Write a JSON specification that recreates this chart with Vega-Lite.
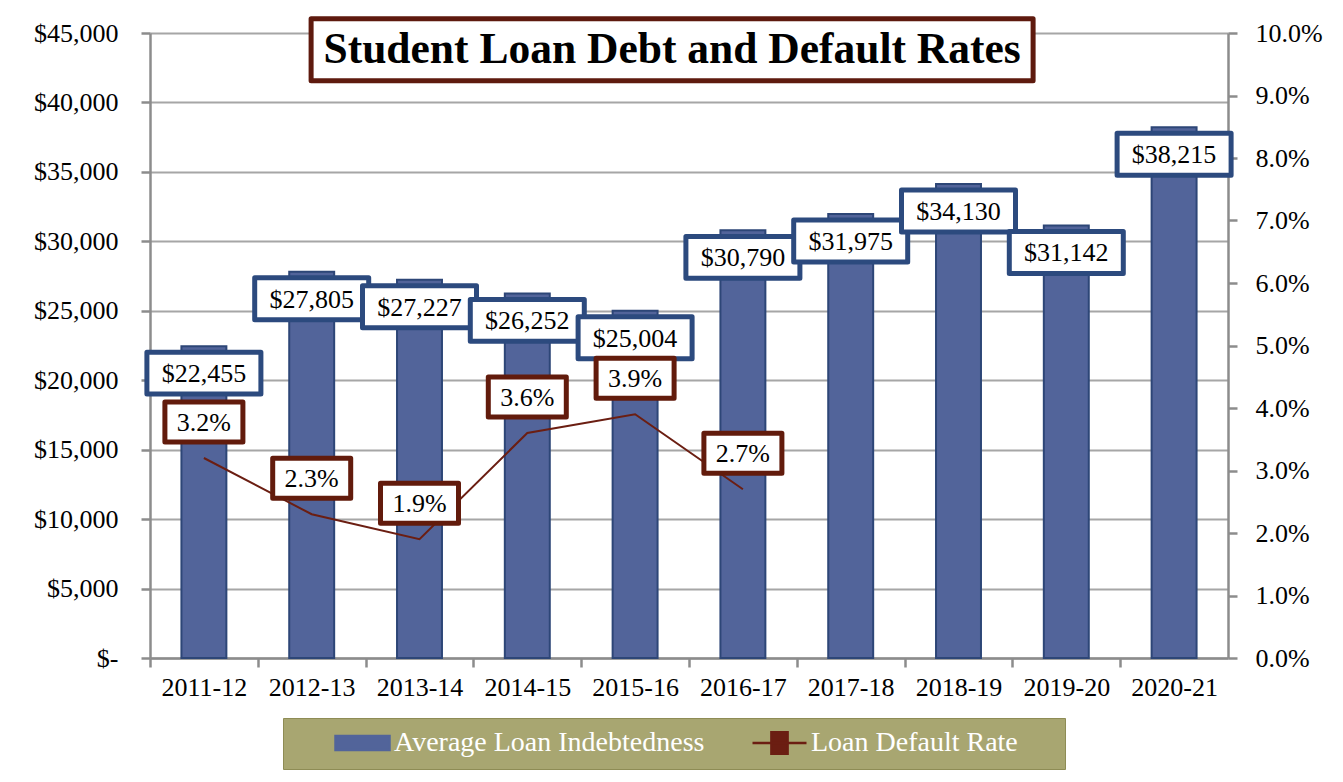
{
  "$schema": "https://vega.github.io/schema/vega-lite/v6.json",
  "width": 1078,
  "height": 625,
  "autosize": {"type": "none"},
  "padding": {"left": 150, "top": 33, "right": 115, "bottom": 124},
  "background": "white",
  "config": {
    "view": {"stroke": null},
    "font": "Liberation Serif",
    "axis": {
      "labelFont": "Liberation Serif",
      "labelFontSize": 26,
      "labelColor": "black",
      "domainColor": "#8c8c8c",
      "domainWidth": 2.5,
      "tickColor": "#8c8c8c",
      "tickWidth": 2.5,
      "tickSize": 9,
      "gridColor": "#a6a6a6",
      "gridWidth": 2,
      "title": null
    }
  },
  "datasets": {
    "loans": [
      {"year": "2011-12", "debt": 22455, "rate": 0.032},
      {"year": "2012-13", "debt": 27805, "rate": 0.023},
      {"year": "2013-14", "debt": 27227, "rate": 0.019},
      {"year": "2014-15", "debt": 26252, "rate": 0.036},
      {"year": "2015-16", "debt": 25004, "rate": 0.039},
      {"year": "2016-17", "debt": 30790, "rate": 0.027},
      {"year": "2017-18", "debt": 31975, "rate": null},
      {"year": "2018-19", "debt": 34130, "rate": null},
      {"year": "2019-20", "debt": 31142, "rate": null},
      {"year": "2020-21", "debt": 38215, "rate": null}
    ],
    "heading": [
      {"heading": "Student Loan Debt and Default Rates"}
    ]
  },
  "data": {"name": "loans"},
  "encoding": {
    "x": {
      "field": "year",
      "type": "nominal",
      "sort": null,
      "scale": {
        "domain": ["2011-12", "2012-13", "2013-14", "2014-15", "2015-16", "2016-17", "2017-18", "2018-19", "2019-20", "2020-21"],
        "paddingInner": 0.583,
        "paddingOuter": 0.2915
      },
      "axis": {"title": null, "bandPosition": 0, "tickOffset": -31.4, "labelOffset": 31.4, "labelAngle": 0, "labelPadding": 7, "grid": false}
    }
  },
  "layer": [
    {
      "encoding": {
        "y": {
          "field": "debt",
          "type": "quantitative",
          "scale": {"domain": [0, 45000], "nice": false},
          "axis": {
            "orient": "left",
            "title": null,
            "values": [0, 5000, 10000, 15000, 20000, 25000, 30000, 35000, 40000, 45000],
            "labelExpr": "datum.value === 0 ? '$-' : format(datum.value, '$,.0f')",
            "labelPadding": 23,
            "grid": true
          }
        }
      },
      "layer": [
        {
          "mark": {"type": "bar", "stroke": "#2d4677", "strokeWidth": 2},
          "encoding": {
            "color": {
              "datum": "Average Loan Indebtedness",
              "scale": {"domain": ["Average Loan Indebtedness", "Loan Default Rate"], "range": ["#52649a", "#6b1e12"]},
              "legend": {
                "title": null,
                "orient": "none",
                "legendX": 133,
                "legendY": 685,
                "direction": "horizontal",
                "columns": 2,
                "fillColor": "#a8a671",
                "strokeColor": "#8e8c55",
                "padding": 12,
                "clipHeight": 26,
                "symbolOffset": 39,
                "labelOffset": 3,
                "columnPadding": 7,
                "labelFont": "Liberation Serif",
                "labelFontSize": 28,
                "labelColor": "white",
                "labelLimit": 0,
                "labelExpr": "datum.value === 'Loan Default Rate' ? 'Loan Default Rate\u00a0\u00a0\u00a0\u00a0\u00a0\u200b' : datum.value",
                "symbolSize": 2916,
                "symbolStrokeWidth": 2.5,
                "symbolOpacity": 1,
                "symbolType": {"expr": "datum.value === 'Loan Default Rate' ? 'M-1,0H1M-0.3,-0.4H0.3V0.4H-0.3Z' : 'M-1,-0.26H1V0.26H-1Z'"}
              }
            }
          }
        },
        {
          "mark": {
            "type": "point",
            "shape": "M-1,-0.368H1V0.368H-1Z",
            "size": 12996,
            "filled": true,
            "fill": "white",
            "stroke": "#2c4a7e",
            "strokeWidth": 5,
            "strokeJoin": "round",
            "opacity": 1,
            "yOffset": 27
          }
        },
        {
          "mark": {"type": "text", "fontSize": 26, "font": "Liberation Serif", "color": "black", "yOffset": 28, "baseline": "middle"},
          "encoding": {"text": {"field": "debt", "type": "quantitative", "format": "$,.0f"}}
        }
      ]
    },
    {
      "encoding": {
        "y": {
          "field": "rate",
          "type": "quantitative",
          "scale": {"domain": [0, 0.1], "nice": false},
          "axis": {
            "orient": "right",
            "title": null,
            "format": ".1%",
            "values": [0, 0.01, 0.02, 0.03, 0.04, 0.05, 0.06, 0.07, 0.08, 0.09, 0.1],
            "labelPadding": 18,
            "grid": false
          }
        }
      },
      "layer": [
        {
          "mark": {"type": "line", "strokeWidth": 2},
          "encoding": {"color": {"datum": "Loan Default Rate"}}
        },
        {
          "transform": [{"filter": "isValid(datum.rate)"}],
          "mark": {
            "type": "point",
            "shape": "M-1,-0.513H1V0.513H-1Z",
            "size": 6084,
            "filled": true,
            "fill": "white",
            "stroke": "#621b0c",
            "strokeWidth": 5,
            "strokeJoin": "round",
            "opacity": 1,
            "yOffset": -36
          }
        },
        {
          "transform": [{"filter": "isValid(datum.rate)"}],
          "mark": {"type": "text", "fontSize": 26, "font": "Liberation Serif", "color": "black", "yOffset": -35, "baseline": "middle"},
          "encoding": {"text": {"field": "rate", "type": "quantitative", "format": ".1%"}}
        }
      ]
    },
    {
      "data": {"name": "heading"},
      "encoding": {
        "x": {"datum": "2015-16", "axis": {"title": null, "bandPosition": 0, "tickOffset": -31.4, "labelOffset": 31.4, "labelAngle": 0, "labelPadding": 7, "grid": false}},
        "y": {"datum": 43800, "type": "quantitative", "scale": {"domain": [0, 45000], "nice": false}, "axis": null}
      },
      "layer": [
        {
          "mark": {
            "type": "point",
            "shape": "M-1,-0.0859H1V0.0859H-1Z",
            "size": 521284,
            "filled": true,
            "fill": "white",
            "stroke": "#5e1a0e",
            "strokeWidth": 5,
            "strokeJoin": "round",
            "opacity": 1,
            "xOffset": 37
          }
        },
        {
          "mark": {"type": "text", "fontSize": 43.5, "fontWeight": "bold", "font": "Liberation Serif", "color": "black", "xOffset": 37, "baseline": "middle"},
          "encoding": {"text": {"field": "heading"}}
        }
      ]
    }
  ],
  "resolve": {"scale": {"y": "independent"}}
}
